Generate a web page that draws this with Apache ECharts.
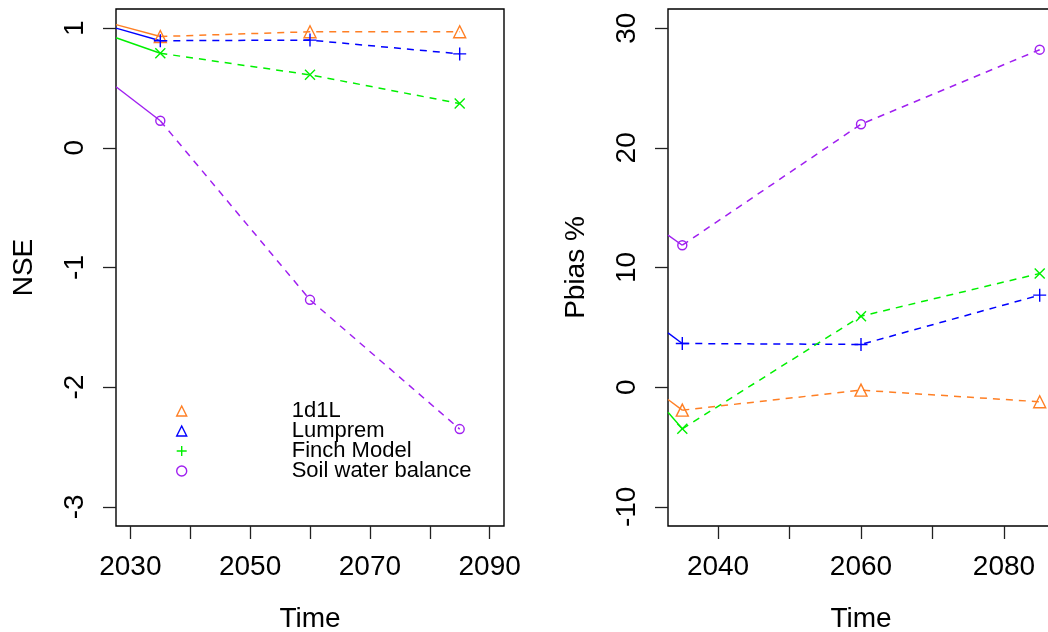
<!DOCTYPE html>
<html>
<head>
<meta charset="utf-8">
<script src="https://cdn.jsdelivr.net/npm/echarts@6/dist/echarts.min.js"></script>
<style>
  html, body { margin: 0; padding: 0; background: #fff; }
  #chart { width: 1048px; height: 632px; }
</style>
</head>
<body>
<div id="chart"></div>
<script>
// Scenario years and model results
const years = [2035, 2060, 2085];
const modelNames = ['1d1L', 'Lumprem', 'Finch Model', 'Soil water balance'];
const modelColors = ['#FF7F24', '#0000FF', '#00F000', '#A020F0'];

// Nash–Sutcliffe efficiency per model
const nse1d1L = [0.93, 0.97, 0.97];
const nseLumprem = [0.895, 0.90, 0.785];
const nseFinch = [0.79, 0.61, 0.37];
const nseSoil = [0.226, -1.27, -2.35];
// values where each NSE curve enters the panel
const nseLeadYear = 2027.6;
const nseLead = [1.03, 1.00, 0.92, 0.51];

// Percent bias per model
const pbias1d1L = [-1.92, -0.25, -1.22];
const pbiasLumprem = [3.65, 3.57, 7.69];
const pbiasFinch = [-3.48, 5.93, 9.5];
const pbiasSoil = [11.86, 21.97, 28.2];
const pbiasLeadYear = 2033;
const pbiasLead = [-1.03, 4.54, -2.1, 12.7];

// Axis ticks and labels
const nseXTicks = [2030, 2040, 2050, 2060, 2070, 2080, 2090];
const nseXLabels = [2030, 2050, 2070, 2090];
const nseYTicks = [-3, -2, -1, 0, 1];
const pbiasXTicks = [2040, 2050, 2060, 2070, 2080];
const pbiasXLabels = [2040, 2060, 2080];
const pbiasYTicks = [-10, 0, 10, 20, 30];

const FONT = 'Liberation Sans, Arial, sans-serif';
const PLUS = 'path://M0,-1L0,1M-1,0L1,0';
const CROSS = 'path://M-1,-1L1,1M-1,1L1,-1';
const plotSymbols = [
  { symbol: 'triangle', size: 12 },
  { symbol: PLUS, size: 13 },
  { symbol: CROSS, size: 10 },
  { symbol: 'circle', size: 9 }
];

function zip(xs, ys) { return xs.map((x, i) => [x, ys[i]]); }

function modelSeries(idx, values, leadYear, leadValue, axisIndex) {
  const color = modelColors[idx];
  const sym = plotSymbols[idx];
  return [
    {
      name: modelNames[idx],
      type: 'line',
      xAxisIndex: axisIndex, yAxisIndex: axisIndex,
      data: zip(years, values),
      symbol: sym.symbol,
      symbolSize: sym.size,
      showAllSymbol: true,
      clip: true,
      lineStyle: { color: color, width: 1.5, type: [7, 6] },
      itemStyle: { color: 'transparent', borderColor: color, borderWidth: 1.4 },
      emphasis: { disabled: true },
      z: 3
    },
    {
      type: 'line',
      xAxisIndex: axisIndex, yAxisIndex: axisIndex,
      data: [[leadYear, leadValue], [years[0], values[0]]],
      symbol: 'none',
      clip: true,
      lineStyle: { color: color, width: 1.4, type: 'solid' },
      emphasis: { disabled: true },
      silent: true,
      z: 2
    }
  ];
}

const axisText = { color: '#000', fontFamily: FONT, fontSize: 28 };
const plainNumber = v => String(v);

function xAxisCfg(gridIndex, min, max, ticks, labels) {
  return {
    type: 'value', gridIndex: gridIndex, min: min, max: max,
    name: 'Time', nameLocation: 'middle', nameGap: 79,
    nameTextStyle: axisText,
    axisLine: { show: false, onZero: false },
    splitLine: { show: false },
    axisTick: { show: true, length: 13, customValues: ticks,
      lineStyle: { color: '#222', width: 1.3 } },
    axisLabel: Object.assign({ customValues: labels, margin: 27, formatter: plainNumber }, axisText)
  };
}

function yAxisCfg(gridIndex, min, max, ticks, name) {
  return {
    type: 'value', gridIndex: gridIndex, min: min, max: max,
    name: name, nameLocation: 'middle', nameRotate: 90, nameGap: 78,
    nameTextStyle: axisText,
    axisLine: { show: false, onZero: false },
    splitLine: { show: false },
    axisTick: { show: true, length: 13, customValues: ticks,
      lineStyle: { color: '#222', width: 1.3 } },
    axisLabel: Object.assign({ customValues: ticks, rotate: 90, margin: 27, formatter: plainNumber }, axisText)
  };
}

const series = [];
[nse1d1L, nseLumprem, nseFinch, nseSoil].forEach((vals, i) => {
  series.push(...modelSeries(i, vals, nseLeadYear, nseLead[i], 0));
});
[pbias1d1L, pbiasLumprem, pbiasFinch, pbiasSoil].forEach((vals, i) => {
  series.push(...modelSeries(i, vals, pbiasLeadYear, pbiasLead[i], 1));
});

// legend symbols: two triangles, a plus and a circle
const legendIcons = ['triangle', 'triangle', PLUS, 'circle'];

const gridBase = { top: 9, height: 517, show: true, outerBoundsMode: 'none',
  containLabel: false, borderColor: '#000', borderWidth: 1.4, backgroundColor: 'transparent' };

const chart = echarts.init(document.getElementById('chart'), null, { renderer: 'canvas' });
chart.setOption({
  animation: false,
  backgroundColor: '#fff',
  grid: [
    Object.assign({ left: 116, width: 388 }, gridBase),
    Object.assign({ left: 668, width: 386 }, gridBase)
  ],
  xAxis: [
    xAxisCfg(0, 2027.6, 2092.4, nseXTicks, nseXLabels),
    xAxisCfg(1, 2033, 2087, pbiasXTicks, pbiasXLabels)
  ],
  yAxis: [
    yAxisCfg(0, -3.16, 1.16, nseYTicks, 'NSE'),
    yAxisCfg(1, -11.6, 31.6, pbiasYTicks, 'Pbias %')
  ],
  legend: {
    orient: 'vertical',
    left: 171, top: 395,
    itemWidth: 10, itemHeight: 10, itemGap: -2,
    selectedMode: false,
    textStyle: { color: '#000', fontFamily: FONT, fontSize: 22, lineHeight: 20,
      padding: [0, 0, 0, 100] },
    data: modelNames.map((n, i) => ({
      name: n,
      icon: legendIcons[i],
      itemStyle: { color: 'transparent', borderColor: modelColors[i], borderWidth: 1.4 }
    }))
  },
  series: series
});
</script>
</body>
</html>
